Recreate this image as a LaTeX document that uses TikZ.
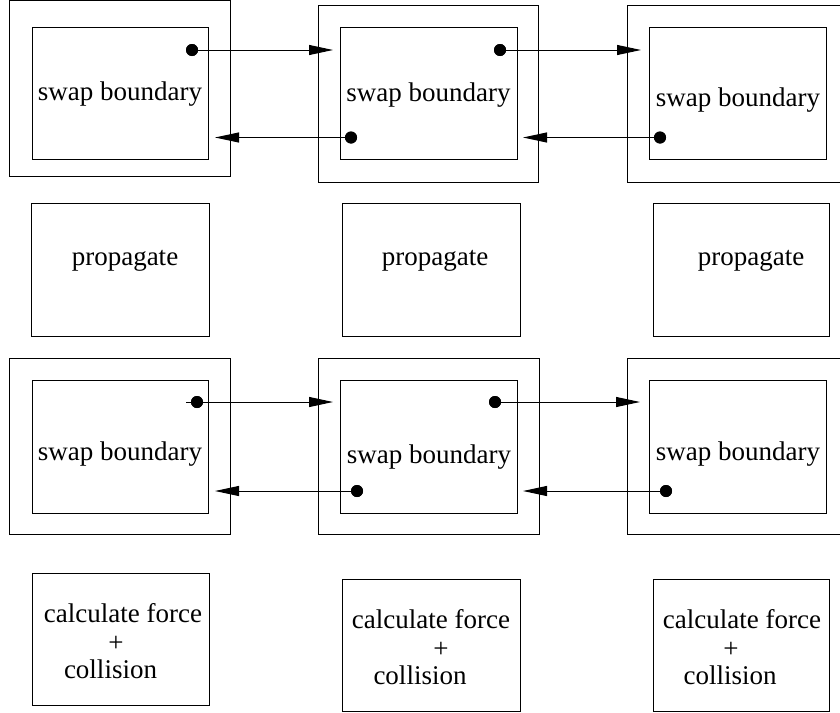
\documentclass[tikz,border=0pt]{standalone}
\usepackage{fontspec}
\setmainfont{Liberation Serif}
\usetikzlibrary{arrows.meta}
\tikzset{
  boxshape/.style={draw=black, line width=1pt, rectangle, inner sep=0pt, outer sep=0pt},
  txt/.style={font=\fontsize{27}{32}\selectfont, inner sep=0pt, anchor=base},
  dotnode/.style={circle, fill=black, inner sep=0pt, minimum size=12pt},
  arr/.style={line width=1pt, -{Triangle[length=24pt,width=10pt]}},
}
\begin{document}
\begin{tikzpicture}[x=1pt,y=-1pt]
\clip (0,0) rectangle (840,712);
\fill[white] (0,0) rectangle (840,712);

% ---- top swap row
\node[boxshape, minimum width=221pt, minimum height=175.3pt] (o11) at (119.5,88.35) {};
\node[boxshape, minimum width=220pt, minimum height=177pt] (o12) at (428,93.5) {};
\node[boxshape, minimum width=220pt, minimum height=177pt] (o13) at (737,93.5) {};
\node[boxshape, minimum width=176pt, minimum height=132pt] (i11) at (120,93) {};
\node[boxshape, minimum width=177pt, minimum height=132pt] (i12) at (428.5,93) {};
\node[boxshape, minimum width=177pt, minimum height=132pt] (i13) at (737.5,93) {};
\node[txt] (s11) at (120,100) {swap boundary};
\node[txt] (s12) at (428.5,101) {swap boundary};
\node[txt] (s13) at (738,106) {swap boundary};

\coordinate (t11) at (333,50);
\coordinate (t12) at (641,50);
\coordinate (u11) at (215,137.5);
\coordinate (u12) at (523,137.5);
\node[dotnode] (d11) at (192,50) {};
\node[dotnode] (d12r) at (500,50) {};
\node[dotnode] (d12l) at (351,137.5) {};
\node[dotnode] (d13) at (660,137.5) {};
\draw[arr] (d11.center) -- (t11);
\draw[arr] (d12r.center) -- (t12);
\draw[arr] (d12l.center) -- (u11);
\draw[arr] (d13.center) -- (u12);
\node[dotnode] at (d11) {};
\node[dotnode] at (d12r) {};
\node[dotnode] at (d12l) {};
\node[dotnode] at (d13) {};

% ---- propagate row
\node[boxshape, minimum width=178pt, minimum height=133pt] (p1) at (120,269.5) {};
\node[boxshape, minimum width=178pt, minimum height=133pt] (p2) at (431,269.5) {};
\node[boxshape, minimum width=176pt, minimum height=133pt] (p3) at (741,269.5) {};
\node[txt] (pt1) at (125,265) {propagate};
\node[txt] (pt2) at (435,265) {propagate};
\node[txt] (pt3) at (751,265) {propagate};

% ---- middle swap row
\node[boxshape, minimum width=221pt, minimum height=176pt] (o21) at (119.5,446) {};
\node[boxshape, minimum width=221pt, minimum height=176pt] (o22) at (428.5,446) {};
\node[boxshape, minimum width=220pt, minimum height=176pt] (o23) at (737,446) {};
\node[boxshape, minimum width=176pt, minimum height=133pt] (i21) at (120,446.5) {};
\node[boxshape, minimum width=177pt, minimum height=133pt] (i22) at (428.5,446.5) {};
\node[boxshape, minimum width=177pt, minimum height=133pt] (i23) at (737.5,446.5) {};
\node[txt] (s21) at (120,460) {swap boundary};
\node[txt] (s22) at (429,463) {swap boundary};
\node[txt] (s23) at (738,460) {swap boundary};

\coordinate (st21) at (186,402);
\coordinate (t21) at (333,402);
\coordinate (t22) at (640,402);
\coordinate (u21) at (215,491);
\coordinate (u22) at (523,491);
\node[dotnode] (d21) at (197,402) {};
\node[dotnode] (d22r) at (495,402) {};
\node[dotnode] (d22l) at (357,491) {};
\node[dotnode] (d23) at (666,491) {};
\draw[arr] (st21) -- (t21);
\draw[arr] (d22r.center) -- (t22);
\draw[arr] (d22l.center) -- (u21);
\draw[arr] (d23.center) -- (u22);
\node[dotnode] at (d21) {};
\node[dotnode] at (d22r) {};
\node[dotnode] at (d22l) {};
\node[dotnode] at (d23) {};

% ---- bottom row
\node[boxshape, minimum width=177pt, minimum height=132pt] (c1) at (120.5,639) {};
\node[boxshape, minimum width=178pt, minimum height=132.3pt] (c2) at (431,645.15) {};
\node[boxshape, minimum width=176pt, minimum height=132.3pt] (c3) at (741,645.15) {};
\node[txt] (c1a) at (123,622) {calculate force};
\node[txt] (c1b) at (116,651) {+};
\node[txt] (c1c) at (110.5,678) {collision};
\node[txt] (c2a) at (431,628) {calculate force};
\node[txt] (c2b) at (441,657) {+};
\node[txt] (c2c) at (420,684) {collision};
\node[txt] (c3a) at (742,628) {calculate force};
\node[txt] (c3b) at (731,657) {+};
\node[txt] (c3c) at (730,684) {collision};
\end{tikzpicture}
\end{document}
